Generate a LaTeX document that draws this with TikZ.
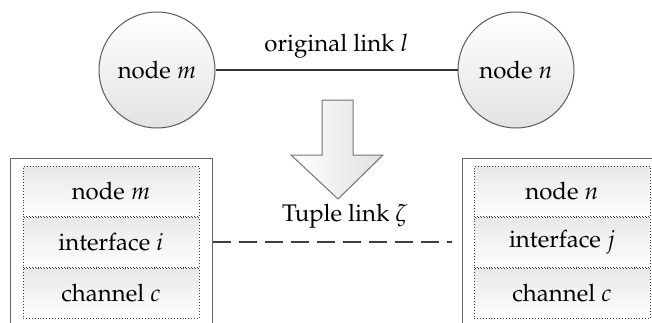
\documentclass[tikz,border=0pt]{standalone}
\usepackage[T1]{fontenc}
\usepackage{mathpazo}
\usetikzlibrary{calc}
\begin{document}
\begin{tikzpicture}[x=0.5pt,y=-0.5pt,
  font=\fontsize{12}{14}\selectfont,
  peer/.style={circle,draw=black!65,line width=0.5pt,minimum size=58pt,inner sep=0pt,
    top color=white,bottom color=black!11},
  holder/.style={rectangle,draw=black!60,line width=0.6pt,fill=white,
    minimum width=101pt,minimum height=86pt,inner sep=0pt,anchor=north west},
  layer/.style={rectangle,draw=black!75,densely dotted,line width=0.45pt,
    minimum width=88pt,minimum height=25pt,inner sep=0pt,
    top color=black!9,bottom color=white},
  wire/.style={draw=black!80,line width=0.8pt},
  tuplewire/.style={draw=black!75,line width=1pt,dash pattern=on 9pt off 4pt},
  bigarrow/.style={draw=black!55,line width=0.5pt,left color=white,right color=black!12}]
\clip (0,0) rectangle (652,322);
\useasboundingbox (0,0) rectangle (652,322);

% two end points of the original link
\node[peer] (pm) at (157,70) {node $m$};
\node[peer] (pn) at (516,70) {node $n$};
\draw[wire] (pm) -- node[above=2pt] {original link $l$} (pn);

% transformation arrow
\draw[bigarrow] (322,100) -- (353,100) -- (353,155) -- (383,155) -- (338,199)
  -- (291,155) -- (322,155) -- cycle;

% left stack
\node[holder] (boxm) at (10,158) {};
\node[layer] (ndm) at (111,191.5) {node $m$};
\node[layer,anchor=north] (ifm) at (ndm.south) {interface $i$};
\node[layer,anchor=north] (chm) at (ifm.south) {channel $c$};

% right stack
\node[holder] (boxn) at (462,158) {};
\node[layer] (ndn) at (562,191.5) {node $n$};
\node[layer,anchor=north] (ifn) at (ndn.south) {interface $j$};
\node[layer,anchor=north] (chn) at (ifn.south) {channel $c$};

% tuple link between the two interfaces
\draw[tuplewire,shorten >=5pt] (ifm -| boxm.east) --
  node[pos=0.53,above=3pt] {Tuple link $\zeta$} (ifn -| boxn.west);
\end{tikzpicture}
\end{document}
